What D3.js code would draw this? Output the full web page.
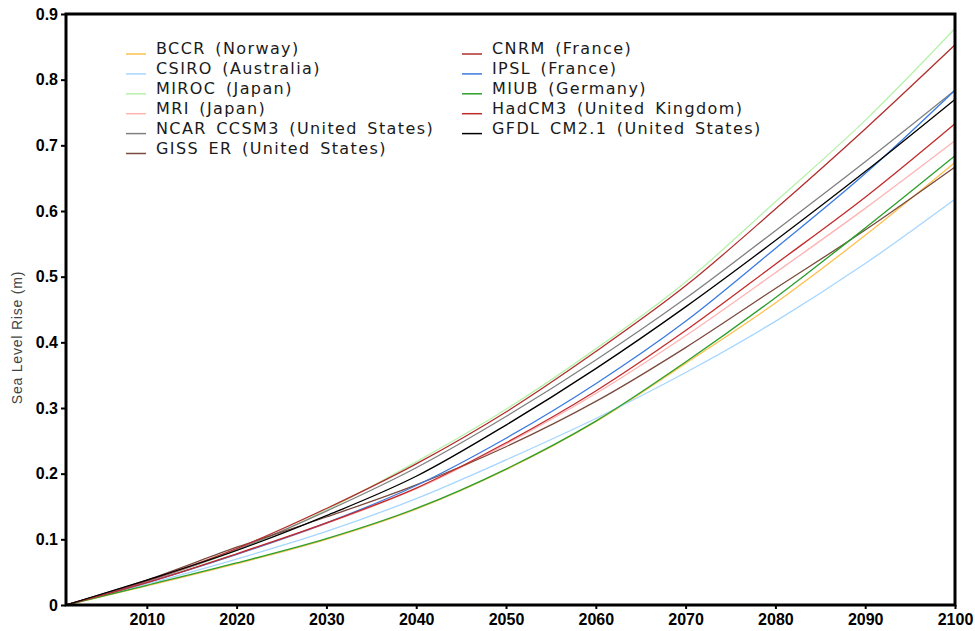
<!DOCTYPE html>
<html>
<head>
<meta charset="utf-8">
<script src="https://cdn.jsdelivr.net/npm/d3@7"></script>
<style>
  html, body { margin: 0; padding: 0; background: #fff; }
  svg { display: block; }
</style>
</head>
<body>
<svg id="chart" width="975" height="631"></svg>
<script>
// Projected sea level rise by climate model, 2001-2100 (metres)
const years = [2001, 2010, 2020, 2030, 2040, 2050, 2060, 2070, 2080, 2090, 2100];

const bccr   = [0, 0.029, 0.063, 0.100, 0.146, 0.206, 0.279, 0.368, 0.460, 0.563, 0.674];
const csiro  = [0, 0.032, 0.070, 0.112, 0.162, 0.221, 0.284, 0.354, 0.432, 0.520, 0.618];
const miroc  = [0, 0.036, 0.083, 0.145, 0.218, 0.298, 0.390, 0.492, 0.614, 0.738, 0.878];
const mri    = [0, 0.034, 0.077, 0.124, 0.177, 0.245, 0.322, 0.410, 0.506, 0.604, 0.707];
const ncar   = [0, 0.036, 0.084, 0.143, 0.209, 0.287, 0.373, 0.467, 0.570, 0.675, 0.784];
const giss   = [0, 0.038, 0.088, 0.134, 0.183, 0.241, 0.310, 0.392, 0.482, 0.571, 0.667];
const cnrm   = [0, 0.037, 0.086, 0.147, 0.215, 0.294, 0.386, 0.486, 0.603, 0.725, 0.853];
const ipsl   = [0, 0.034, 0.077, 0.125, 0.182, 0.254, 0.337, 0.432, 0.543, 0.657, 0.784];
const miub   = [0, 0.030, 0.064, 0.101, 0.147, 0.207, 0.280, 0.370, 0.468, 0.574, 0.684];
const hadcm3 = [0, 0.034, 0.078, 0.125, 0.178, 0.247, 0.326, 0.418, 0.519, 0.621, 0.733];
const gfdl   = [0, 0.038, 0.083, 0.136, 0.196, 0.274, 0.360, 0.454, 0.555, 0.660, 0.770];

const modelLabels = [
  "BCCR (Norway)", "CSIRO (Australia)", "MIROC (Japan)", "MRI (Japan)",
  "NCAR CCSM3 (United States)", "GISS ER (United States)",
  "CNRM (France)", "IPSL (France)", "MIUB (Germany)",
  "HadCM3 (United Kingdom)", "GFDL CM2.1 (United States)"
];
const modelSeries = [bccr, csiro, miroc, mri, ncar, giss, cnrm, ipsl, miub, hadcm3, gfdl];
const modelColors = [
  "#ffbf4f", "#a6d6ff", "#b6f2aa", "#ffb3b3", "#808080", "#7a4b3e",
  "#b22e2e", "#3a7be0", "#2ca02c", "#c42a2a", "#000000"
];

const xTicks = [2010, 2020, 2030, 2040, 2050, 2060, 2070, 2080, 2090, 2100];
const yTicks = [0, 0.1, 0.2, 0.3, 0.4, 0.5, 0.6, 0.7, 0.8, 0.9];
const yTickLabels = ["0", "0.1", "0.2", "0.3", "0.4", "0.5", "0.6", "0.7", "0.8", "0.9"];
const yTitle = "Sea Level Rise (m)";

const width = 975, height = 631;
const margin = { top: 14, right: 20, bottom: 26, left: 66 };
const innerW = width - margin.left - margin.right;
const innerH = height - margin.top - margin.bottom;

const svg = d3.select("#chart");
const g = svg.append("g").attr("transform", `translate(${margin.left},${margin.top})`);

const x = d3.scaleLinear().domain([2001, 2100]).range([0, innerW]);
const y = d3.scaleLinear().domain([0, 0.9]).range([innerH, 0]);

const tickFont = "'Liberation Sans', Arial, sans-serif";

// model curves
const line = d3.line()
  .x(d => x(d[0]))
  .y(d => y(d[1]))
  .curve(d3.curveMonotoneX);

const models = modelLabels.map((label, i) => ({
  label,
  color: modelColors[i],
  points: years.map((yr, j) => [yr, modelSeries[i][j]])
}));

g.append("g")
  .selectAll("path")
  .data(models)
  .join("path")
  .attr("fill", "none")
  .attr("stroke", d => d.color)
  .attr("stroke-width", 1.3)
  .attr("d", d => line(d.points));

// axes
const xAxis = g.append("g")
  .attr("transform", `translate(0,${innerH})`)
  .call(d3.axisBottom(x).tickValues(xTicks).tickFormat(d3.format("d")).tickSize(4).tickPadding(5));
const yAxis = g.append("g")
  .call(d3.axisLeft(y).tickValues(yTicks).tickFormat((d, i) => yTickLabels[i]).tickSize(5).tickPadding(3));

[xAxis, yAxis].forEach(ax => {
  ax.select(".domain").remove();
  ax.selectAll(".tick line").attr("stroke", "#000").attr("stroke-width", 2);
  ax.selectAll(".tick text")
    .attr("fill", "#000")
    .style("font-family", tickFont)
    .style("font-weight", "bold")
    .style("font-size", "16px");
});

// frame
g.append("rect")
  .attr("x", 0).attr("y", 0)
  .attr("width", innerW).attr("height", innerH)
  .attr("fill", "none")
  .attr("stroke", "#000")
  .attr("stroke-width", 3);

// y axis title
svg.append("text")
  .attr("transform", `translate(22,${margin.top + innerH / 2 + 28}) rotate(-90)`)
  .attr("text-anchor", "middle")
  .attr("fill", "#444")
  .style("font-family", "'Liberation Sans', Arial, sans-serif")
  .style("font-size", "14px")
  .style("letter-spacing", "0.8px")
  .text(yTitle);

// legend, two columns
const legendCols = [
  { x: 126, start: 0, count: 6 },
  { x: 462, start: 6, count: 5 }
];
const legendTop = 54, rowGap = 19.9;
legendCols.forEach(col => {
  const items = models.slice(col.start, col.start + col.count);
  const lg = svg.append("g").attr("transform", `translate(${col.x},${legendTop})`);
  const row = lg.selectAll("g").data(items).join("g")
    .attr("transform", (d, i) => `translate(0,${i * rowGap})`);
  row.append("line")
    .attr("x1", 0).attr("x2", 20)
    .attr("y1", 0).attr("y2", 0)
    .attr("stroke", d => d.color)
    .attr("stroke-width", 1.5);
  row.append("text")
    .attr("x", 30).attr("y", 0)
    .attr("fill", "#1a1a1a")
    .style("font-family", "'DejaVu Sans', sans-serif")
    .style("font-size", "16px")
    .style("letter-spacing", "1.4px")
    .style("word-spacing", "3px")
    .text(d => d.label);
});
</script>
</body>
</html>
